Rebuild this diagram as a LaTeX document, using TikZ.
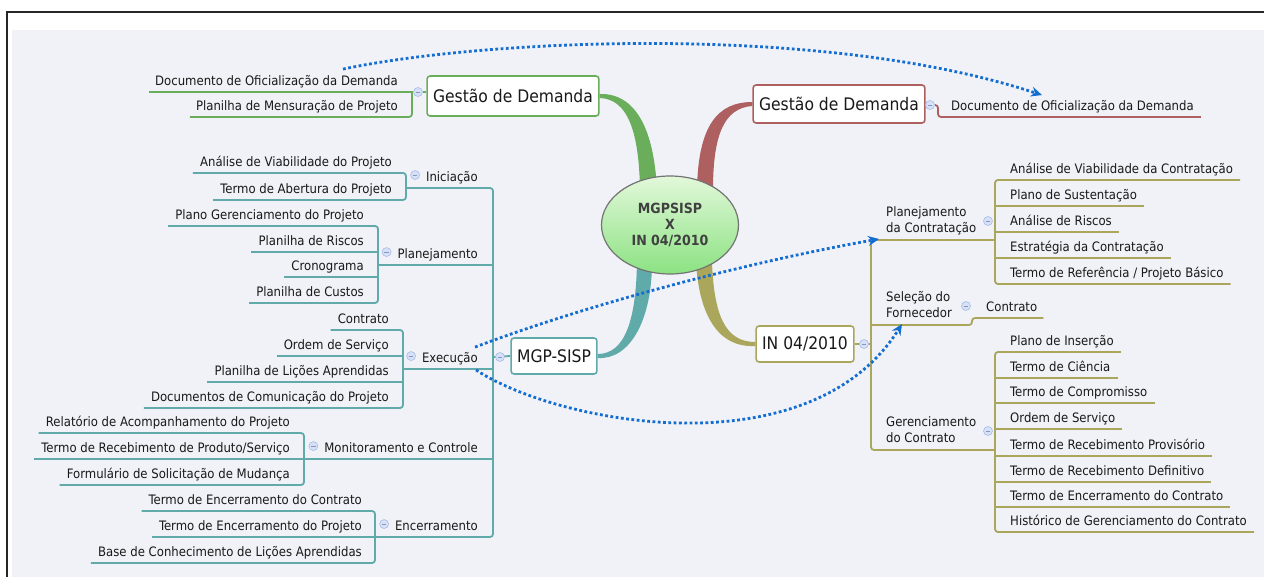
\documentclass[tikz,border=0pt]{standalone}
\usepackage{fontspec}
\setmainfont{DejaVuSansCondensed}[Extension=.ttf, BoldFont=DejaVuSansCondensed-Bold]
\usetikzlibrary{shapes.geometric, arrows.meta, positioning}
\pgfdeclarelayer{back}
\pgfdeclarelayer{mid}
\pgfsetlayers{back,mid,main}

\definecolor{bgpanel}{RGB}{241,242,247}
\definecolor{gdgreen}{RGB}{106,174,92}
\definecolor{gdred}{RGB}{174,96,96}
\definecolor{mgpteal}{RGB}{96,170,170}
\definecolor{inolive}{RGB}{170,166,92}
\definecolor{linkblue}{RGB}{20,110,210}
\definecolor{hubtop}{RGB}{226,248,218}
\definecolor{hubbot}{RGB}{140,226,130}
\definecolor{hubtext}{RGB}{64,64,64}
\definecolor{txt}{RGB}{25,25,25}
\definecolor{circfill}{RGB}{214,224,246}
\definecolor{circdraw}{RGB}{168,188,232}

\newcommand{\leaffont}{\fontsize{13}{16}\selectfont}
\newcommand{\topicfont}{\fontsize{17.3}{20}\selectfont}
\newcommand{\hubfont}{\fontsize{14}{16}\selectfont\bfseries}

\begin{document}
\begin{tikzpicture}[
        x=1pt, y=-1pt,
        leaf/.style={font=\leaffont, text=txt, inner xsep=0pt, inner ysep=3.5pt, text height=9.5pt, text depth=3pt},
        leafL/.style={leaf, anchor=south east},
        leafR/.style={leaf, anchor=south west},
        leafR2/.style={font=\leaffont, text=txt, align=left, inner xsep=0pt, inner ysep=2.7pt, anchor=south west},
        topic/.style={draw, rounded corners=3pt, fill=white, line width=1.6pt, font=\topicfont, text=txt, inner xsep=6pt, minimum height=36pt},
        hub/.style={ellipse, draw=gray!90!black, line width=1.2pt, top color=hubtop, bottom color=hubbot, minimum width=137pt, minimum height=98pt, align=center, font=\hubfont, text=hubtext},
        collapse/.style={circle, draw=circdraw, fill=circfill, line width=0.6pt, minimum size=9pt, inner sep=0pt,
            path picture={\draw[circdraw!80!black, line width=0.8pt] ([xshift=-2.2pt]path picture bounding box.center) -- ([xshift=2.2pt]path picture bounding box.center);}},
        greenline/.style={draw=gdgreen, line width=1.8pt, rounded corners=3pt},
        redline/.style={draw=gdred, line width=1.8pt, rounded corners=3pt},
        tealline/.style={draw=mgpteal, line width=1.8pt, rounded corners=3pt},
        oliveline/.style={draw=inolive, line width=1.8pt, rounded corners=3pt},
        relation/.style={draw=linkblue, line width=2.8pt, dash pattern=on 2.8pt off 2.5pt, -{Stealth[length=11pt, width=10pt]}}
    ]
    \useasboundingbox (0,0) rectangle (1264,577);

    % Moldura e fundo.
    \begin{pgfonlayer}{back}
        \fill[white] (0,0) rectangle (1264,577);
        \fill[bgpanel] (12,30) rectangle (1264,577);
        \draw[black!85, line width=1.4pt] (1264,12) -- (7,12) -- (7,577);
    \end{pgfonlayer}

    % Tema central e tópicos principais.
    \node[hub] (hub) at (670,225) {MGPSISP\\X\\IN 04/2010};
    \node[topic, draw=gdgreen, minimum height=40pt] (gdL) at (513,96) {Gestão de Demanda};
    \node[topic, draw=gdred, minimum height=38pt] (gdR) at (839,104) {Gestão de Demanda};
    \node[topic, draw=mgpteal] (mgp) at (554,356) {MGP-SISP};
    \node[topic, draw=inolive] (inb) at (805,344) {IN 04/2010};

    % Gestão de Demanda (esquerda).
    \node[leafL] (gdL1) at (398,92) {Documento de Oficialização da Demanda};
    \node[leafL] (gdL2) at (398,117) {Planilha de Mensuração de Projeto};
    \coordinate (gdLB) at (412,92);
    \node[collapse] (gdLC) at (418,92) {};

    % Gestão de Demanda (direita).
    \node[leafR] (gdR1) at (951,117) {Documento de Oficialização da Demanda};
    \node[collapse] (gdRC) at (930,105) {};

    % MGP-SISP: fases.
    \node[collapse] (mgpC) at (500,357) {};
    \coordinate (mgpT) at (493,357);

    \node[leafL] (ini) at (478,188) {Iniciação};
    \node[collapse, left=6pt of ini, yshift=3pt] (iniC) {};
    \coordinate (iniB) at (406,188);
    \node[leafL] (ini1) at (392,173) {Análise de Viabilidade do Projeto};
    \node[leafL] (ini2) at (392,200) {Termo de Abertura do Projeto};

    \node[leafL] (pla) at (478,265) {Planejamento};
    \node[collapse, left=6pt of pla, yshift=3pt] (plaC) {};
    \coordinate (plaB) at (378,265);
    \node[leafL] (pla1) at (364,226) {Plano Gerenciamento do Projeto};
    \node[leafL] (pla2) at (364,252) {Planilha de Riscos};
    \node[leafL] (pla3) at (364,277) {Cronograma};
    \node[leafL] (pla4) at (364,303) {Planilha de Custos};

    \node[leafL] (exe) at (478,369) {Execução};
    \node[collapse, left=6pt of exe, yshift=3pt] (exeC) {};
    \coordinate (exeB) at (403,369);
    \node[leafL] (exe1) at (389,330) {Contrato};
    \node[leafL] (exe2) at (389,356) {Ordem de Serviço};
    \node[leafL] (exe3) at (389,382) {Planilha de Lições Aprendidas};
    \node[leafL] (exe4) at (389,408) {Documentos de Comunicação do Projeto};

    \node[leafL] (mon) at (478,459) {Monitoramento e Controle};
    \node[collapse, left=6pt of mon, yshift=3pt] (monC) {};
    \coordinate (monB) at (304,459);
    \node[leafL] (mon1) at (290,433) {Relatório de Acompanhamento do Projeto};
    \node[leafL] (mon2) at (290,459) {Termo de Recebimento de Produto/Serviço};
    \node[leafL] (mon3) at (290,485) {Formulário de Solicitação de Mudança};

    \node[leafL] (enc) at (478,537) {Encerramento};
    \node[collapse, left=6pt of enc, yshift=3pt] (encC) {};
    \coordinate (encB) at (375,537);
    \node[leafL] (enc1) at (362,511) {Termo de Encerramento do Contrato};
    \node[leafL] (enc2) at (362,537) {Termo de Encerramento do Projeto};
    \node[leafL] (enc3) at (362,563) {Base de Conhecimento de Lições Aprendidas};

    % IN 04/2010: etapas.
    \node[collapse] (inC) at (864,344) {};
    \coordinate (inT) at (871,344);

    \node[leafR2] (pcon) at (886,240) {Planejamento\\da Contratação\strut};
    \node[collapse] (pconC) at (988,221) {};
    \coordinate (pconB) at (995,240);
    \node[leafR] (pc1) at (1010,180) {Análise de Viabilidade da Contratação};
    \node[leafR] (pc2) at (1010,206) {Plano de Sustentação};
    \node[leafR] (pc3) at (1010,232) {Análise de Riscos};
    \node[leafR] (pc4) at (1010,258) {Estratégia da Contratação};
    \node[leafR] (pc5) at (1010,284) {Termo de Referência / Projeto Básico};

    \node[leafR2] (sel) at (886,325) {Seleção do\\Fornecedor\strut};
    \node[collapse] (selC) at (966,306) {};
    \coordinate (selB) at (972,325);
    \node[leafR] (sel1) at (986,318) {Contrato};

    \node[leafR2] (ger) at (886,450) {Gerenciamento\\do Contrato\strut};
    \node[collapse] (gerC) at (988,431) {};
    \coordinate (gerB) at (995,450);
    \node[leafR] (ger1) at (1010,352) {Plano de Inserção};
    \node[leafR] (ger2) at (1010,378) {Termo de Ciência};
    \node[leafR] (ger3) at (1010,403) {Termo de Compromisso};
    \node[leafR] (ger4) at (1010,429) {Ordem de Serviço};
    \node[leafR] (ger5) at (1010,456) {Termo de Recebimento Provisório};
    \node[leafR] (ger6) at (1010,482) {Termo de Recebimento Definitivo};
    \node[leafR] (ger7) at (1010,507) {Termo de Encerramento do Contrato};
    \node[leafR] (ger8) at (1010,532) {Histórico de Gerenciamento do Contrato};

    \begin{pgfonlayer}{mid}
        % Ramos grossos a partir do tema central.
        \fill[gdgreen] ([yshift=2pt]gdL.east) .. controls (635,93) and (654,128) .. (657,190)
            -- (640,190) .. controls (639,132) and (628,99) .. ([yshift=-2pt]gdL.east) -- cycle;
        \fill[gdred] (697,190) .. controls (698,125) and (718,102) .. ([yshift=2pt]gdR.west)
            -- ([yshift=-2pt]gdR.west) .. controls (724,108) and (713,135) .. (713,190) -- cycle;
        \fill[mgpteal] (637,262) .. controls (636,320) and (625,354) .. ([yshift=2pt]mgp.east)
            -- ([yshift=-2pt]mgp.east) .. controls (630,360) and (652,320) .. (652,262) -- cycle;
        \fill[inolive] (712,262) .. controls (714,315) and (725,342) .. ([yshift=2pt]inb.west)
            -- ([yshift=-2pt]inb.west) .. controls (718,348) and (699,315) .. (696,262) -- cycle;

        % Linhas da Gestão de Demanda.
        \draw[greenline] ([xshift=-6pt]gdL1.south west) -- (gdLC);
        \draw[greenline] (gdLB) |- ([xshift=-6pt]gdL2.south west);
        \draw[greenline] (gdLC) -- (gdLC -| gdL.west);
        \draw[redline] (gdR.east |- gdRC) -- (gdRC) -| ([xshift=-13pt]gdR1.south west) -- ([xshift=7pt]gdR1.south east);

        % Linhas do MGP-SISP.
        \draw[tealline] (iniB) -| (mgpT) |- (encB);
        \draw[tealline] (plaB) -- (plaB -| mgpT);
        \draw[tealline] (exeB) -- (exeB -| mgpT);
        \draw[tealline] (monB) -- (monB -| mgpT);
        \draw[tealline] (mgpT) -- (mgp.west);
        \draw[tealline] ([xshift=-7pt]ini1.south west) -| (iniB) |- ([xshift=-7pt]ini2.south west);
        \draw[tealline] ([xshift=-7pt]pla1.south west) -| (plaB) |- ([xshift=-7pt]pla4.south west);
        \draw[tealline] ([xshift=-7pt]pla2.south west) -- (pla2.south -| plaB);
        \draw[tealline] ([xshift=-7pt]pla3.south west) -- (pla3.south -| plaB);
        \draw[tealline] ([xshift=-7pt]exe1.south west) -| (exeB) |- ([xshift=-7pt]exe4.south west);
        \draw[tealline] ([xshift=-7pt]exe2.south west) -- (exe2.south -| exeB);
        \draw[tealline] ([xshift=-7pt]exe3.south west) -- (exe3.south -| exeB);
        \draw[tealline] ([xshift=-7pt]mon1.south west) -| (monB) |- ([xshift=-7pt]mon3.south west);
        \draw[tealline] ([xshift=-7pt]mon2.south west) -- (mon2.south -| monB);
        \draw[tealline] ([xshift=-7pt]enc1.south west) -| (encB) |- ([xshift=-7pt]enc3.south west);
        \draw[tealline] ([xshift=-7pt]enc2.south west) -- (enc2.south -| encB);

        % Linhas da IN 04/2010.
        \draw[oliveline] (pconB) -| (inT) |- (gerB);
        \draw[oliveline] (inb.east) -- (inT);
        \draw[oliveline] (selB -| inT) -- (selB) |- ([xshift=6pt]sel1.south east);
        \draw[oliveline] ([xshift=7pt]pc1.south east) -| (pconB) |- ([xshift=7pt]pc5.south east);
        \draw[oliveline] (pc2.south -| pconB) -- ([xshift=7pt]pc2.south east);
        \draw[oliveline] (pc3.south -| pconB) -- ([xshift=7pt]pc3.south east);
        \draw[oliveline] (pc4.south -| pconB) -- ([xshift=7pt]pc4.south east);
        \draw[oliveline] ([xshift=7pt]ger1.south east) -| (gerB) |- ([xshift=7pt]ger8.south east);
        \draw[oliveline] (ger2.south -| gerB) -- ([xshift=7pt]ger2.south east);
        \draw[oliveline] (ger3.south -| gerB) -- ([xshift=7pt]ger3.south east);
        \draw[oliveline] (ger4.south -| gerB) -- ([xshift=7pt]ger4.south east);
        \draw[oliveline] (ger5.south -| gerB) -- ([xshift=7pt]ger5.south east);
        \draw[oliveline] (ger6.south -| gerB) -- ([xshift=7pt]ger6.south east);
        \draw[oliveline] (ger7.south -| gerB) -- ([xshift=7pt]ger7.south east);
    \end{pgfonlayer}

    % Relações entre documentos.
    \draw[relation] ([xshift=-55pt, yshift=3pt]gdL1.north east) .. controls (480,40) and (820,22) .. ([xshift=91pt, yshift=2pt]gdR1.north west);
    \draw[relation] ([xshift=-3pt, yshift=2pt]exe.north east) .. controls (600,300) and (760,260) .. ([xshift=-7pt, yshift=1pt]pcon.south west);
    \draw[relation] ([xshift=-2pt, yshift=-1pt]exe.south east) .. controls (560,425) and (810,470) .. ([xshift=16pt, yshift=1pt]sel.south west);
\end{tikzpicture}
\end{document}
